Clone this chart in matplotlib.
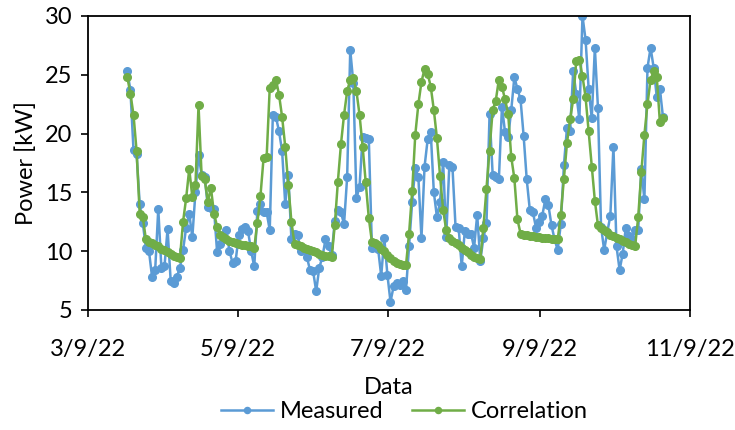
import pandas as pd
import matplotlib
matplotlib.use("Agg")
import matplotlib.pyplot as plt

# data (kW), one value per sample
measured = [25.3, 23.7, 18.6, 18.3, 14.0, 12.4, 10.3, 10.0, 7.8, 8.4,
            13.6, 8.6, 8.7, 11.9, 7.5, 7.3, 7.8, 8.6, 10.1, 12.0,
            13.2, 11.2, 15.0, 18.2, 16.5, 16.3, 13.8, 13.7, 13.6, 9.9,
            10.6, 11.2, 11.8, 10.0, 9.0, 9.2, 11.4, 11.9, 12.1, 11.7,
            10.0, 8.7, 13.4, 14.0, 13.3, 13.3, 11.8, 21.6, 21.4, 20.2,
            18.5, 14.0, 16.5, 11.0, 11.5, 11.4, 10.0, 10.2, 9.5, 8.4,
            8.3, 6.6, 8.6, 9.5, 11.0, 10.4, 9.7, 12.6, 13.5, 13.3,
            12.3, 16.3, 27.1, 24.3, 14.5, 15.5, 19.7, 19.6, 19.5, 10.3,
            10.6, 10.2, 7.9, 11.1, 8.0, 5.7, 7.0, 7.3, 7.1, 7.5,
            6.7, 10.4, 14.2, 17.1, 16.3, 11.1, 17.2, 19.5, 20.1, 15.0,
            12.9, 14.2, 17.6, 11.2, 17.3, 17.2, 12.1, 12.0, 8.7, 11.7,
            11.5, 11.5, 10.3, 13.1, 9.2, 11.1, 12.4, 21.7, 16.5, 16.3,
            16.1, 22.3, 20.1, 19.7, 22.0, 24.8, 23.8, 22.9, 19.8, 16.1,
            13.5, 13.3, 12.0, 12.5, 13.0, 14.4, 13.9, 12.2, 11.0, 10.1,
            12.3, 17.3, 20.5, 20.2, 25.3, 23.4, 21.2, 30.0, 28.0, 23.8,
            21.3, 27.3, 22.2, 12.1, 10.1, 11.6, 13.0, 18.9, 10.4, 8.4,
            9.8, 12.0, 11.3, 11.0, 11.8, 11.8, 17.0, 14.4, 25.6, 27.3,
            25.6, 23.1, 23.8, 21.4]

correlation = [24.8, 23.4, 21.6, 18.5, 13.2, 12.9, 11.0, 10.8, 10.7, 10.5,
               10.4, 10.2, 10.1, 9.9, 9.8, 9.6, 9.5, 9.4, 12.5, 14.5,
               17.0, 14.6, 15.6, 22.4, 16.4, 16.1, 14.2, 15.4, 13.2, 12.1,
               11.4, 11.2, 11.0, 10.9, 10.8, 10.7, 10.6, 10.5, 10.5, 10.4,
               10.4, 10.3, 12.4, 14.7, 17.9, 18.0, 23.9, 24.1, 24.6, 23.3,
               21.4, 18.9, 15.6, 12.5, 10.6, 10.5, 10.4, 10.3, 10.2, 10.1,
               10.0, 9.9, 9.8, 9.7, 9.6, 9.6, 9.5, 12.2, 15.9, 19.1,
               21.6, 23.6, 24.6, 24.7, 23.6, 21.6, 18.9, 15.9, 12.8, 10.8,
               10.7, 10.5, 10.2, 10.0, 9.7, 9.4, 9.2, 9.0, 8.9, 8.8,
               8.8, 11.5, 15.1, 19.9, 22.5, 24.4, 25.5, 25.1, 24.0, 22.0,
               19.6, 16.4, 13.5, 11.8, 11.1, 10.9, 10.7, 10.5, 10.3, 10.1,
               9.9, 9.7, 9.5, 9.4, 9.3, 12.0, 15.3, 18.5, 22.0, 22.8,
               24.6, 24.0, 22.9, 21.7, 18.0, 16.2, 12.7, 11.5, 11.4, 11.4,
               11.3, 11.3, 11.2, 11.2, 11.1, 11.1, 11.1, 11.0, 11.0, 11.0,
               13.1, 16.1, 19.2, 21.2, 22.9, 26.2, 26.3, 24.9, 23.1, 20.2,
               17.2, 14.3, 12.2, 12.0, 11.8, 11.6, 11.4, 11.3, 11.1, 11.0,
               10.9, 10.8, 10.6, 10.5, 10.4, 12.9, 16.7, 19.9, 22.5, 24.6,
               25.3, 24.8, 21.0, 21.3]

first_day = "2022-03-25"
last_day = "2022-10-29"
tick_days = ["2022-03-09", "2022-05-09", "2022-07-09", "2022-09-09", "2022-11-09"]
tick_labels = ["3/9/22", "5/9/22", "7/9/22", "9/9/22", "11/9/22"]

dates = pd.date_range(first_day, last_day, periods=len(measured))

plt.rcParams['font.family'] = ['Lato', 'DejaVu Sans']

fig = plt.figure(figsize=(7.35, 4.30), dpi=100)
ax = fig.add_axes([88/735, 1-310/430, 602/735, 294/430])

ax.plot(dates, measured, color='#5B9BD5', lw=1.8, marker='o', markersize=5.5,
        label='Measured', zorder=2)
ax.plot(dates, correlation, color='#70AD47', lw=1.8, marker='o', markersize=5.5,
        label='Correlation', zorder=3)

ax.set_xlim(pd.Timestamp(tick_days[0]), pd.Timestamp(tick_days[-1]))
ax.set_ylim(5, 30)
ax.set_yticks([5, 10, 15, 20, 25, 30])
ax.set_xticks(pd.to_datetime(tick_days))
ax.set_xticklabels(tick_labels)

for s in ax.spines.values():
    s.set_color('black')
    s.set_linewidth(1.3)
ax.tick_params(labelsize=17, length=5, width=1.2, color='black')
ax.tick_params(axis='x', pad=16)
ax.tick_params(axis='y', pad=6)

ax.set_xlabel("Data", fontsize=17, labelpad=12)
ax.set_ylabel("Power [kW]", fontsize=17, labelpad=6)

fig.legend(loc='center', bbox_to_anchor=(0.55, 0.042), ncol=2, frameon=False,
           fontsize=17, handlelength=2.2, handletextpad=0.3, columnspacing=1.2,
           markerscale=0.8)

fig.savefig("out.png", dpi=100)
